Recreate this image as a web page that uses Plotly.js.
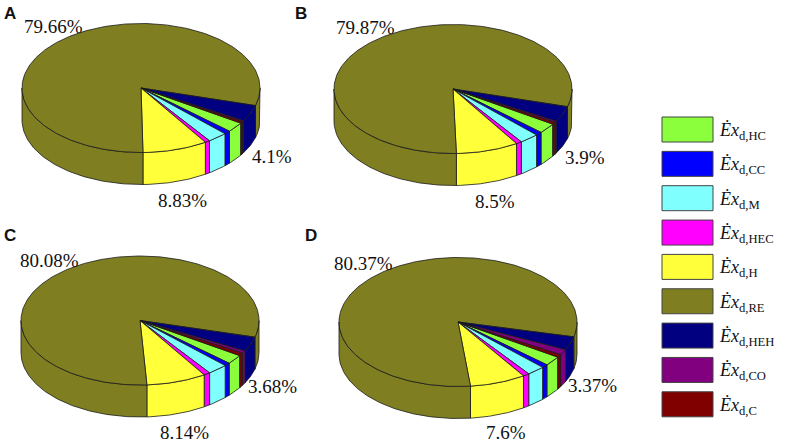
<!DOCTYPE html>
<html>
<head>
<meta charset="utf-8">
<script src="https://cdn.plot.ly/plotly-3.0.1.min.js"></script>
<style>
  html, body { margin: 0; padding: 0; background: #fff; }
  #chart { width: 789px; height: 443px; }
</style>
</head>
<body>
<div id="chart"></div>
<script>
// exergy destruction shares (%), order = legend order
var names = ['HC', 'CC', 'M', 'HEC', 'H', 'RE', 'HEH', 'CO', 'C'];
var panels = ['A', 'B', 'C', 'D'];
var pieA = [2.5, 0.87, 2.7, 0.67, 8.83, 79.66, 4.1, 0.27, 0.4];
var pieB = [2.58, 0.87, 2.65, 0.78, 8.5, 79.87, 3.9, 0.35, 0.5];
var pieC = [2.35, 0.79, 2.75, 0.88, 8.14, 80.08, 3.68, 0.63, 0.7];
var pieD = [2.4, 0.85, 2.45, 0.86, 7.6, 80.37, 3.37, 1.4, 0.7];
var labelled = ['H', 'RE', 'HEH'];

var pies = [pieA, pieB, pieC, pieD];
var colors = ['#8cff3c', '#0000ff', '#80ffff', '#ff00ff', '#ffff3a',
              '#7f7f22', '#000080', '#800080', '#800000'];

// layout of the 3d pies (pixels)
var cxs = [141, 453, 140, 458];
var cys = [88, 89, 320.5, 322];
var RX = 119, RY = 64.5, TH = 32;
var startDeg = -33;
var edge = {color: '#1a1a1a', width: 0.8};

function rad(d) { return d * Math.PI / 180; }

function arc(cx, cy, a, b, dy) {
    var n = Math.max(2, Math.ceil(Math.abs(b - a)) + 1);
    var xs = [], ys = [];
    for (var k = 0; k < n; k++) {
        var t = a + (b - a) * k / (n - 1);
        xs.push(cx + RX * Math.cos(rad(t)));
        ys.push(cy - RY * Math.sin(rad(t)) + dy);
    }
    return [xs, ys];
}

var sides = [], tops = [], annotations = [], shapes = [];

pies.forEach(function (vals, p) {
    var cx = cxs[p], cy = cys[p];
    var cum = 0;
    vals.forEach(function (v, i) {
        var a = startDeg - cum * 3.6;
        cum += v;
        var b = startDeg - cum * 3.6;

        // top face
        var t = arc(cx, cy, a, b, 0);
        tops.push({
            x: [cx].concat(t[0], [cx]), y: [cy].concat(t[1], [cy]),
            type: 'scatter', mode: 'lines', fill: 'toself',
            fillcolor: colors[i], line: edge, hoverinfo: 'skip', showlegend: false
        });

        // visible part of the cylinder wall (front half)
        var lo = Math.min(a, b), hi = Math.max(a, b);
        for (var k = -2; k <= 2; k++) {
            var s = Math.max(lo, -180 + 360 * k), e = Math.min(hi, 360 * k);
            if (e - s > 1e-6) {
                var up = arc(cx, cy, s, e, 0), dn = arc(cx, cy, e, s, TH);
                sides.push({
                    x: up[0].concat(dn[0], [up[0][0]]), y: up[1].concat(dn[1], [up[1][0]]),
                    type: 'scatter', mode: 'lines', fill: 'toself',
                    fillcolor: colors[i], line: edge, hoverinfo: 'skip', showlegend: false
                });
            }
        }

        if (labelled.indexOf(names[i]) >= 0) {
            var m = rad((a + b) / 2);
            var lx = cx + 1.2 * RX * Math.cos(m);
            var ly = cy - 1.2 * RY * Math.sin(m);
            if (Math.sin(m) < 0) ly += TH + 6;
            annotations.push({
                x: lx, y: ly, xref: 'x', yref: 'y', text: String(v) + '%',
                showarrow: false, xanchor: 'center', yanchor: 'middle',
                font: {family: 'Liberation Serif', size: 19, color: '#111'}
            });
        }
    });
});

// panel letters
var letterX = [2, 293, 2, 303], letterY = [2, 2, 224, 224];
panels.forEach(function (L, p) {
    annotations.push({
        x: letterX[p], y: letterY[p], xref: 'x', yref: 'y', text: '<b>' + L + '</b>',
        showarrow: false, xanchor: 'left', yanchor: 'top',
        font: {family: 'Liberation Sans', size: 17, color: '#111'}
    });
});

// legend
var legX = 662, legY = 117, legW = 51, legH = 25, legStep = 34.35;
names.forEach(function (nm, i) {
    var y0 = legY + i * legStep;
    shapes.push({
        type: 'rect', xref: 'x', yref: 'y', x0: legX, x1: legX + legW, y0: y0, y1: y0 + legH,
        fillcolor: colors[i], line: {color: '#444', width: 1}
    });
    annotations.push({
        x: legX + legW + 4, y: y0 + legH / 2 + 2, xref: 'x', yref: 'y',
        text: '<i>Ė</i><i>x</i><sub>d,' + nm + '</sub>',
        showarrow: false, xanchor: 'left', yanchor: 'middle',
        font: {family: 'Liberation Serif', size: 18, color: '#111'}
    });
});

var layout = {
    width: 789, height: 443,
    margin: {l: 0, r: 0, t: 0, b: 0},
    paper_bgcolor: '#fff', plot_bgcolor: '#fff',
    showlegend: false,
    xaxis: {range: [0, 789], visible: false, fixedrange: true},
    yaxis: {range: [443, 0], visible: false, fixedrange: true},
    shapes: shapes,
    annotations: annotations
};

Plotly.newPlot('chart', sides.concat(tops), layout, {displayModeBar: false, staticPlot: true});
</script>
</body>
</html>
